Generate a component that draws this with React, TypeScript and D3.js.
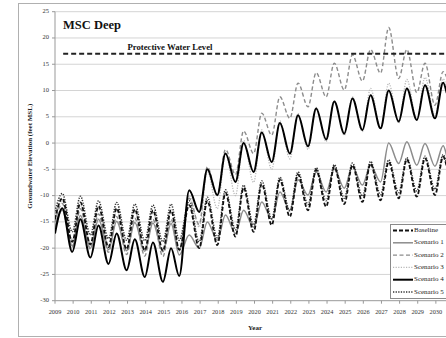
import React from "react";
import * as d3 from "d3";

const times = [
  2009.0, 2009.4, 2009.95, 2010.4, 2010.95, 2011.4, 2011.95, 2012.4, 2012.95, 2013.4, 2013.95,
  2014.4, 2014.95, 2015.4, 2015.85, 2016.4, 2016.95, 2017.4, 2017.95, 2018.4, 2018.95, 2019.4,
  2019.95, 2020.4, 2020.95, 2021.4, 2021.95, 2022.4, 2022.95, 2023.4, 2023.95, 2024.4, 2024.95,
  2025.4, 2025.95, 2026.4, 2026.95, 2027.4, 2027.95, 2028.4, 2028.95, 2029.4, 2029.95, 2030.4, 2030.6,
];

const baseline = [
  -14.5, -10.5, -18.8, -11.3, -19.3, -12.0, -19.8, -12.4, -20.2, -12.6, -20.4,
  -12.8, -20.5, -12.8, -20.3, -11.8, -20.0, -11.0, -19.4, -9.5, -17.8, -8.5,
  -16.9, -7.8, -15.6, -7.0, -14.0, -6.0, -12.8, -5.1, -12.1, -4.5, -11.6,
  -4.2, -11.2, -3.9, -10.9, -3.6, -10.5, -3.1, -10.2, -2.9, -9.9, -2.6, -4.5,
];
const scenario1 = [
  -16.0, -12.8, -19.6, -13.8, -20.0, -14.5, -20.3, -14.9, -20.5, -15.1, -20.6,
  -15.2, -20.7, -15.3, -21.3, -17.5, -20.0, -15.0, -18.5, -13.7, -17.2, -12.8,
  -16.0, -11.2, -14.5, -9.3, -12.8, -7.0, -9.9, -5.5, -9.3, -5.0, -8.6,
  -4.5, -8.0, -4.2, -7.4, 0.0, -3.9, 0.25, -4.2, -0.1, -4.4, -0.5, -2.5,
];
const scenario2 = [
  -15.0, -11.5, -19.8, -12.5, -20.2, -13.5, -20.8, -14.0, -21.2, -14.3, -21.5,
  -14.5, -21.6, -14.5, -20.5, -10.5, -15.5, -4.5, -10.0, -1.2, -6.0, 2.3,
  -2.0, 5.7, 1.5, 8.8, 4.7, 11.4, 6.9, 13.4, 8.8, 15.2, 10.1,
  16.8, 11.8, 17.8, 13.3, 22.0, 12.3, 17.8, 9.6, 15.2, 7.2, 13.6, 12.5,
];
const scenario3 = [
  -14.0, -11.0, -18.5, -11.8, -19.0, -12.5, -19.5, -12.8, -20.0, -13.0, -20.2,
  -13.2, -20.3, -13.0, -20.5, -10.0, -16.0, -5.3, -12.5, -2.0, -10.0, 0.5,
  -7.5, 2.5, -5.0, 4.2, -3.0, 5.6, -1.2, 6.8, 0.3, 8.0, 1.5,
  8.8, 2.2, 10.4, 2.8, 11.4, 3.8, 12.1, 4.5, 12.5, 5.2, 12.2, 10.5,
];
const scenario4 = [
  -17.2, -12.4, -20.7, -14.5, -21.8, -15.7, -23.0, -17.2, -24.2, -18.3, -25.5,
  -18.9, -26.4, -20.0, -25.3, -9.0, -13.1, -5.0, -9.9, -2.0, -7.4, 0.0,
  -5.5, 2.0, -3.6, 3.8, -2.0, 5.3, -0.6, 6.6, 0.7, 7.9, 1.8,
  8.5, 2.5, 9.1, 2.8, 10.0, 4.1, 10.4, 4.4, 11.0, 4.7, 11.5, 9.5,
];
const scenario5 = [
  -13.0, -9.6, -16.9, -10.1, -17.5, -11.0, -18.2, -11.3, -18.5, -11.6, -18.6,
  -11.8, -18.8, -11.6, -18.5, -11.0, -18.8, -10.3, -18.0, -8.9, -16.5, -8.0,
  -15.6, -7.2, -14.4, -6.5, -12.9, -5.5, -11.7, -4.7, -11.0, -4.1, -10.5,
  -3.8, -10.1, -3.5, -9.8, -3.2, -9.4, -2.8, -9.1, -2.5, -8.8, -2.2, -4.0,
];

const seriesNames = ["Baseline", "Scenario 1", "Scenario 2", "Scenario 3", "Scenario 4", "Scenario 5"];
const yTicks = [25, 20, 15, 10, 5, 0, -5, -10, -15, -20, -25, -30];
const xTicks = d3.range(2009, 2031);
const protectiveLevel = 17;

const styles = [
  { color: "#111", width: 1.8, dash: "4,2" },
  { color: "#8c8c8c", width: 1.5, dash: "" },
  { color: "#8c8c8c", width: 1.4, dash: "4,2.5" },
  { color: "#b8b8b8", width: 1.3, dash: "1.2,1.4" },
  { color: "#000", width: 2.0, dash: "" },
  { color: "#333", width: 1.5, dash: "1.3,1.3" },
];

const FONT = "'Liberation Serif', 'Times New Roman', serif";

export default function App() {
  const W = 446, H = 338;
  const x = d3.scaleLinear().domain([2009, 2031]).range([55, 454]);
  const y = d3.scaleLinear().domain([-30, 25]).range([300.7, 11.7]);
  const line = d3
    .line<number>()
    .x((_, i) => x(times[i]))
    .y((d) => y(d))
    .curve(d3.curveMonotoneX);
  const data = [baseline, scenario1, scenario2, scenario3, scenario4, scenario5];
  const drawOrder = [1, 3, 2, 5, 0, 4];
  const legendX = 390.5, legendY = 224.5, legendStep = 12.3;

  return (
    <svg width={W} height={H} style={{ position: "absolute", left: 0, top: 0, background: "#fff", fontFamily: FONT }}>
      <rect x={18.5} y={3.5} width={450} height={333} fill="#fff" stroke="#b0b0b0" />
      <defs>
        <clipPath id="plot">
          <rect x={55} y={0} width={400} height={301} />
        </clipPath>
      </defs>
      {yTicks.map((t) => (
        <g key={t}>
          {t !== -30 && <line x1={55} x2={455} y1={y(t)} y2={y(t)} stroke="#d4d4d4" strokeWidth={1} />}
          <line x1={52} x2={55} y1={y(t)} y2={y(t)} stroke="#999" />
          <text x={49} y={y(t)} textAnchor="end" dominantBaseline="middle" fontSize={6.5} fill="#333">
            {t}
          </text>
        </g>
      ))}
      <line x1={55} x2={55} y1={y(25)} y2={y(-30)} stroke="#999" />
      <line x1={55} x2={455} y1={y(-30)} y2={y(-30)} stroke="#999" />
      {xTicks.map((t) => (
        <g key={t}>
          <line x1={x(t)} x2={x(t)} y1={y(-30)} y2={y(-30) + 3} stroke="#999" />
          <text x={x(t)} y={314} textAnchor="middle" fontSize={6.3} fill="#333">
            {t}
          </text>
        </g>
      ))}
      <g clipPath="url(#plot)">
        {drawOrder.map((k) => (
          <path
            key={k}
            d={line(data[k]) || ""}
            fill="none"
            stroke={styles[k].color}
            strokeWidth={styles[k].width}
            strokeDasharray={styles[k].dash || undefined}
          />
        ))}
      </g>
      <line x1={x(2009.45)} x2={455} y1={y(protectiveLevel)} y2={y(protectiveLevel)} stroke="#222" strokeWidth={1.8} strokeDasharray="5,3" />
      <text x={127.5} y={50} fontSize={8.7} fontWeight="bold" fill="#111">
        Protective Water Level
      </text>
      <text x={63} y={29} fontSize={12.5} fontWeight="bold" fill="#111">
        MSC Deep
      </text>
      <text
        transform={`translate(32,${(y(25) + y(-30)) / 2}) rotate(-90)`}
        textAnchor="middle"
        fontSize={7}
        fontWeight="bold"
        fill="#222"
      >
        Groundwater Elevation (feet MSL)
      </text>
      <text x={255} y={330} textAnchor="middle" fontSize={7} fontWeight="bold" fill="#222">
        Year
      </text>
      <rect x={legendX} y={legendY} width={70} height={74} fill="#fff" stroke="#8a8a8a" />
      {seriesNames.map((n, i) => {
        const cy = legendY + 6 + i * legendStep;
        return (
          <g key={n}>
            <line
              x1={393}
              x2={413}
              y1={cy}
              y2={cy}
              stroke={styles[i].color}
              strokeWidth={styles[i].width}
              strokeDasharray={styles[i].dash || undefined}
            />
            <text x={414} y={cy} dominantBaseline="middle" fontSize={7} fill="#222">
              {n}
            </text>
          </g>
        );
      })}
    </svg>
  );
}
